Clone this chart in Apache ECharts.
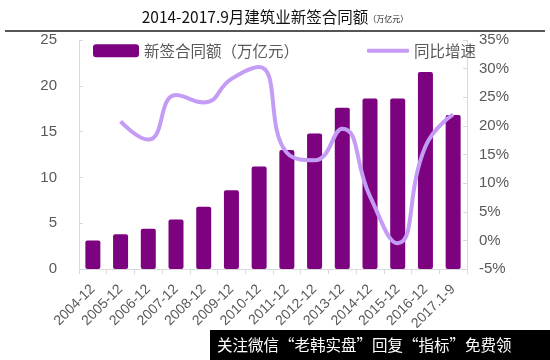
<!DOCTYPE html>
<html><head><meta charset="utf-8">
<script src="https://cdn.jsdelivr.net/npm/echarts@6/dist/echarts.min.js"></script>
<style>html,body{margin:0;padding:0;background:#fff}#c{width:550px;height:360px}</style>
</head><body><div id="c"></div>
<script>
const categories = ['2004-12','2005-12','2006-12','2007-12','2008-12','2009-12','2010-12','2011-12','2012-12','2013-12','2014-12','2015-12','2016-12','2017.1-9'];
const contractValues = [3.1,3.8,4.4,5.4,6.8,8.6,11.2,13.0,14.8,17.6,18.6,18.6,21.5,16.8];
const growthRates = [null,20.8,17.6,25.4,24.1,28.2,30.3,15.3,14.0,19.5,7.7,-0.5,16.4,22.0];
const leftTicks = [0,5,10,15,20,25];
const rightTicks = [-5,0,5,10,15,20,25,30,35];

const chart = echarts.init(document.getElementById('c'));
const font = 'Liberation Sans, Arial, sans-serif';
const cjk = '"Noto Sans CJK SC", sans-serif';
chart.setOption({
  animation: false,
  title: {
    text: '2014-2017.9月建筑业新签合同额{s|（万亿元）}',
    left: 'center', top: 4,
    textStyle: { fontFamily: cjk, fontSize: 15.5, fontWeight: 'normal', color: '#111',
      rich: { s: { fontSize: 8, color: '#111', fontFamily: cjk, padding: [4,0,0,0] } } }
  },
  graphic: [
    { type: 'line', shape: { x1: 5, y1: 31, x2: 545, y2: 31 }, style: { stroke: '#555', lineWidth: 2 } },
    { type: 'rect', shape: { x: 210, y: 330, width: 340, height: 30 }, style: { fill: '#000' }, z: 100 },
    { type: 'text', x: 217, y: 345, z: 101, style: { text: '关注微信“老韩实盘”回复“指标”免费领', fill: '#fff', font: '15.5px "Noto Sans CJK SC"', textVerticalAlign: 'middle' } }
  ],
  legend: [
    { data: [{ name: '新签合同额（万亿元）', icon: 'roundRect' }], left: 88, top: 38, itemWidth: 46, itemHeight: 13, itemGap: 4,
      textStyle: { fontFamily: cjk, fontSize: 15.5, color: '#595959' } },
    { data: [{ name: '同比增速', icon: 'roundRect' }], left: 362, top: 38, itemWidth: 42, itemHeight: 4,
      textStyle: { fontFamily: cjk, fontSize: 15.5, color: '#595959' } }
  ],
  grid: { left: 79, right: 83, top: 40, bottom: 91 },
  xAxis: {
    type: 'category', data: categories,
    axisLine: { lineStyle: { color: '#d9d9d9' } },
    axisTick: { show: true, lineStyle: { color: '#d9d9d9' } },
    axisLabel: { rotate: 45, fontFamily: font, fontSize: 14, color: '#595959', interval: 0, margin: 18 }
  },
  yAxis: [
    { type: 'value', min: 0, max: 25, interval: 5, position: 'left',
      axisLine: { show: true, lineStyle: { color: '#d9d9d9' } },
      axisTick: { show: true, inside: true, length: 4, lineStyle: { color: '#d9d9d9' } },
      splitLine: { show: false },
      axisLabel: { fontFamily: font, fontSize: 15, color: '#595959', margin: 22 } },
    { type: 'value', min: -5, max: 35, interval: 5, position: 'right',
      axisLine: { show: true, lineStyle: { color: '#d9d9d9' } },
      axisTick: { show: true, inside: true, length: 4, lineStyle: { color: '#d9d9d9' } },
      splitLine: { show: false },
      axisLabel: { fontFamily: font, fontSize: 15, color: '#595959', margin: 12, formatter: '{value}%' } }
  ],
  series: [
    { name: '新签合同额（万亿元）', type: 'bar', data: contractValues, yAxisIndex: 0, barWidth: 15,
      itemStyle: { color: '#7D0280', borderRadius: 2 } },
    { name: '同比增速', type: 'line', data: growthRates, yAxisIndex: 1, smooth: 0.5, showSymbol: false,
      symbol: 'none', connectNulls: false,
      lineStyle: { color: '#C49CF5', width: 4 }, itemStyle: { color: '#C49CF5' } }
  ]
});
</script></body></html>
